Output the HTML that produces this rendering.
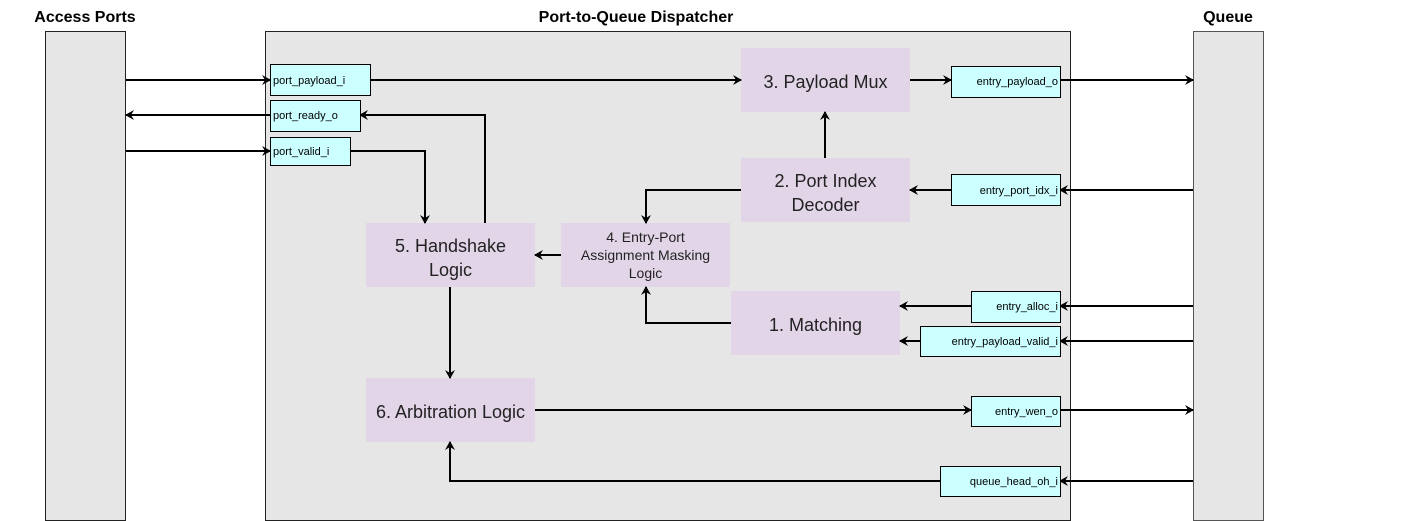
<!DOCTYPE html>
<html><head><meta charset="utf-8"><style>
body{margin:0;background:#fff}
svg{display:block}
text{font-family:"Liberation Sans",Arial,sans-serif}
.t{font-weight:bold;font-size:16px;text-anchor:middle}
.c{fill:#ccffff;stroke:#000;stroke-width:1}
.p{fill:#e1d5e7}
.s{font-size:11px}
.b{font-size:18px;text-anchor:middle;fill:#222}
.l{stroke:#000;stroke-width:2;fill:none}
</style></head><body>
<svg width="1405" height="521" viewBox="0 0 1405 521">
<defs><marker id="a" markerWidth="10" markerHeight="10" refX="8" refY="5" orient="auto" markerUnits="userSpaceOnUse"><path d="M0,0 L9,5 L0,10 L3,5 Z" fill="#000"/></marker></defs>
<text class="t" x="85" y="22">Access Ports</text>
<text class="t" x="636" y="22">Port-to-Queue Dispatcher</text>
<text class="t" x="1228" y="22">Queue</text>
<rect x="45.5" y="31.5" width="80" height="489" fill="#e6e6e6" stroke="#222"/>
<rect x="265.5" y="31.5" width="805" height="489" fill="#e6e6e6" stroke="#222"/>
<rect x="1193.5" y="31.5" width="70" height="489" fill="#e6e6e6" stroke="#555"/>

<rect class="p" x="741" y="48" width="169" height="64"/>
<text class="b" x="825.5" y="88">3. Payload Mux</text>
<rect class="p" x="741" y="158" width="169" height="64"/>
<text class="b" x="825.5" y="187">2. Port Index</text><text class="b" x="825.5" y="211">Decoder</text>
<rect class="p" x="561" y="223" width="169" height="64"/>
<text class="b" x="645.5" y="242" style="font-size:14px">4. Entry-Port</text>
<text class="b" x="645.5" y="260" style="font-size:14px">Assignment Masking</text>
<text class="b" x="645.5" y="278" style="font-size:14px">Logic</text>
<rect class="p" x="366" y="223" width="169" height="64"/>
<text class="b" x="450.5" y="252">5. Handshake</text><text class="b" x="450.5" y="276">Logic</text>
<rect class="p" x="731" y="291" width="169" height="64"/>
<text class="b" x="815.5" y="331">1. Matching</text>
<rect class="p" x="366" y="378" width="169" height="64"/>
<text class="b" x="450.5" y="418">6. Arbitration Logic</text>

<g class="l">
<path d="M126,80H270" marker-end="url(#a)"/>
<path d="M370,80H741" marker-end="url(#a)"/>
<path d="M910,80H951" marker-end="url(#a)"/>
<path d="M1060,80H1193" marker-end="url(#a)"/>
<path d="M270,115H126" marker-end="url(#a)"/>
<path d="M485,223V115H360" marker-end="url(#a)"/>
<path d="M126,151H270" marker-end="url(#a)"/>
<path d="M350,151H425V223" marker-end="url(#a)"/>
<path d="M825,158V112" marker-end="url(#a)"/>
<path d="M1193,190H1060" marker-end="url(#a)"/>
<path d="M951,190H910" marker-end="url(#a)"/>
<path d="M741,190H646V223" marker-end="url(#a)"/>
<path d="M561,255H535" marker-end="url(#a)"/>
<path d="M731,323H646V287" marker-end="url(#a)"/>
<path d="M1193,306H1060" marker-end="url(#a)"/>
<path d="M971,306H900" marker-end="url(#a)"/>
<path d="M1193,341H1060" marker-end="url(#a)"/>
<path d="M920,341H900" marker-end="url(#a)"/>
<path d="M450,287V378" marker-end="url(#a)"/>
<path d="M535,410H971" marker-end="url(#a)"/>
<path d="M1060,410H1193" marker-end="url(#a)"/>
<path d="M1193,481H1060" marker-end="url(#a)"/>
<path d="M940,481H450V442" marker-end="url(#a)"/>
</g>

<rect class="c" x="270.5" y="64.5" width="100" height="31"/><text class="s" x="273" y="84">port_payload_i</text>
<rect class="c" x="270.5" y="100.5" width="90" height="31"/><text class="s" x="273" y="119">port_ready_o</text>
<rect class="c" x="270.5" y="137.5" width="80" height="28"/><text class="s" x="273" y="155">port_valid_i</text>
<rect class="c" x="951.5" y="66.5" width="109" height="31"/><text class="s" x="1058" y="85" text-anchor="end">entry_payload_o</text>
<rect class="c" x="951.5" y="174.5" width="109" height="31"/><text class="s" x="1058" y="194" text-anchor="end">entry_port_idx_i</text>
<rect class="c" x="971.5" y="291.5" width="89" height="31"/><text class="s" x="1058" y="310" text-anchor="end">entry_alloc_i</text>
<rect class="c" x="920.5" y="326.5" width="140" height="30"/><text class="s" x="1058" y="345" text-anchor="end">entry_payload_valid_i</text>
<rect class="c" x="971.5" y="396.5" width="89" height="30"/><text class="s" x="1058" y="415" text-anchor="end">entry_wen_o</text>
<rect class="c" x="940.5" y="466.5" width="120" height="30"/><text class="s" x="1058" y="485" text-anchor="end">queue_head_oh_i</text>
</svg>
</body></html>
